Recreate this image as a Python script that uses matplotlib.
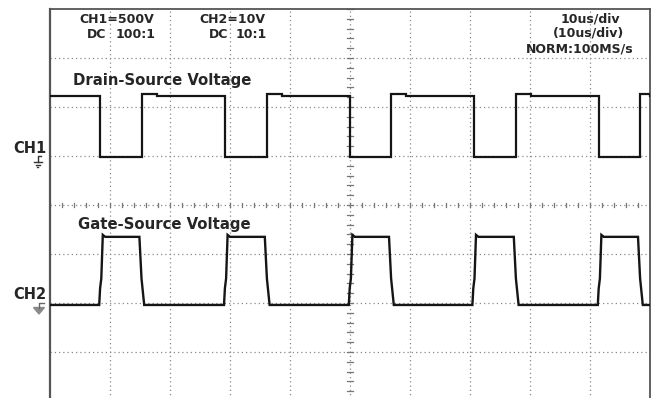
import matplotlib
matplotlib.use("Agg")
import matplotlib.pyplot as plt
import numpy as np
from matplotlib.lines import Line2D
from matplotlib.patches import Polygon

# ---- acquisition settings -------------------------------------------------
ch1_scale_v = 500.0      # V / div
ch2_scale_v = 10.0       # V / div
time_scale_us = 10.0     # us / div

# ---- CH1 : drain-source voltage (V) ----------------------------------------
ch1_fall_us = [8.3, 29.2, 50.0, 70.7, 91.5]
ch1_rise_us = [15.3, 36.2, 56.8, 77.7, 98.3]
ch1_high_v = 608.0
ch1_peak_v = 633.0
ch1_low_v = -6.0
ch1_peak_len_us = 2.5

# ---- CH2 : gate-source voltage (V) -----------------------------------------
ch2_rise_us = [8.2, 29.0, 49.8, 70.4, 91.3]
ch2_fall_us = [14.9, 35.8, 56.5, 77.3, 98.0]
ch2_low_v = -0.4
ch2_plateau_v = 5.0
ch2_peak_v = 13.9
ch2_high_v = 13.5
ch2_fall_knee_v = 5.0

# ---- header / labels -------------------------------------------------------
hdr_ch1 = ["CH1=500V", "DC", "100:1"]
hdr_ch2 = ["CH2=10V", "DC", "10:1"]
hdr_time = ["10us/div", "(10us/div)", "NORM:100MS/s"]
trace_titles = ["Drain-Source Voltage", "Gate-Source Voltage"]
channel_names = ["CH1", "CH2"]


def drain_trace():
    t, v = [0.0], [ch1_high_v]
    for tf, tr in zip(ch1_fall_us, ch1_rise_us):
        t += [tf, tf, tr, tr]
        v += [ch1_high_v, ch1_low_v, ch1_low_v, ch1_peak_v]
        t_end = min(tr + ch1_peak_len_us, 100.0)
        t += [t_end, t_end]
        v += [ch1_peak_v, ch1_high_v]
    t.append(100.0)
    v.append(ch1_high_v)
    return np.array(t), np.array(v)


def gate_trace():
    t, v = [0.0], [ch2_low_v]
    for tr, tf in zip(ch2_rise_us, ch2_fall_us):
        t += [tr, tr + 0.15, tr + 0.35, tr + 0.6, tr + 1.0, tf, tf + 0.35, tf + 0.8]
        v += [ch2_low_v, 3.0, ch2_plateau_v, ch2_peak_v, ch2_high_v,
              ch2_high_v, ch2_fall_knee_v, ch2_low_v]
    t.append(100.0)
    v.append(ch2_low_v)
    return np.array(t), np.array(v)


W, H = 654, 398
fig = plt.figure(figsize=(W / 100, H / 100), dpi=100)
fig.patch.set_facecolor("white")

# graticule: 10 x 8 divisions; screen bottom falls just below the image edge
ax = fig.add_axes([50 / W, (H - 401) / H, 600 / W, 392 / H])
ax.set_xlim(0, 10 * time_scale_us)
ax.set_ylim(0, 8)
ax.set_xticks([])
ax.set_yticks([])
for side, sp in ax.spines.items():
    sp.set_color("#555555")
    sp.set_linewidth(1.3)
ax.spines["left"].set_linewidth(1.6)

grid_kw = dict(color="#8a8a8a", lw=0.9, ls=(0, (1, 2.4)), zorder=1)
for k in range(1, 10):
    ax.axvline(k * time_scale_us, **grid_kw)
for k in range(1, 8):
    ax.axhline(k, **grid_kw)

# minor marks on the centre cross
for yy in np.arange(0, 8.001, 0.2):
    ax.plot([49.5, 50.5], [yy, yy], color="#777777", lw=0.9, zorder=1)
for xx in np.arange(0, 100.001, 2.0):
    ax.plot([xx, xx], [3.95, 4.05], color="#777777", lw=0.9, zorder=1)

# traces
ch1_offset_div = 5.0
ch2_offset_div = 2.0
t1, v1 = drain_trace()
t2, v2 = gate_trace()
ax.plot(t1, ch1_offset_div + v1 / ch1_scale_v, color="#151515", lw=1.6,
        solid_joinstyle="miter", zorder=3)
ax.plot(t2, ch2_offset_div + v2 / ch2_scale_v, color="#151515", lw=1.7,
        solid_joinstyle="miter", zorder=3)


def fx(px):
    return px / W


def fy(py):
    return 1 - py / H


txt = dict(weight="bold", color="#262626", family="DejaVu Sans", va="baseline")

fig.text(fx(79), fy(23), hdr_ch1[0], fontsize=9, ha="left", **txt)
fig.text(fx(87), fy(38), hdr_ch1[1], fontsize=9, ha="left", **txt)
fig.text(fx(156), fy(38), hdr_ch1[2], fontsize=9, ha="right", **txt)
fig.text(fx(199), fy(23), hdr_ch2[0], fontsize=9, ha="left", **txt)
fig.text(fx(209), fy(38), hdr_ch2[1], fontsize=9, ha="left", **txt)
fig.text(fx(267), fy(38), hdr_ch2[2], fontsize=9, ha="right", **txt)

fig.text(fx(590), fy(23), hdr_time[0], fontsize=9, ha="center", **txt)
fig.text(fx(588), fy(36), hdr_time[1], fontsize=9, ha="center", **txt)
fig.text(fx(580), fy(53), hdr_time[2], fontsize=9, ha="center", **txt)

fig.text(fx(73), fy(85), trace_titles[0], fontsize=10.7, ha="left", **txt)
fig.text(fx(78), fy(229), trace_titles[1], fontsize=10.7, ha="left", **txt)

fig.text(fx(13), fy(153), channel_names[0], fontsize=10.5, ha="left", **txt)
fig.text(fx(13), fy(299), channel_names[1], fontsize=10.5, ha="left", **txt)


def fig_line(xs, ys, color, lw):
    fig.add_artist(Line2D([fx(x) for x in xs], [fy(y) for y in ys],
                          color=color, lw=lw, transform=fig.transFigure))


# ground reference markers
fig_line([41, 37.5, 37.5], [156, 156, 162], "#333333", 1.0)
fig_line([34, 42], [162, 162], "#333333", 1.0)
fig_line([35.5, 39.5], [164.5, 164.5], "#333333", 1.0)
fig_line([37, 38], [167, 167], "#333333", 1.0)

fig_line([44, 39, 39], [303, 303, 307.5], "#666666", 1.0)
fig.add_artist(Polygon([(fx(33.5), fy(307.5)), (fx(44.5), fy(307.5)), (fx(39), fy(314))],
                       closed=True, color="#8a8a8a", transform=fig.transFigure))

fig.savefig("out.png", dpi=100, facecolor="white")
